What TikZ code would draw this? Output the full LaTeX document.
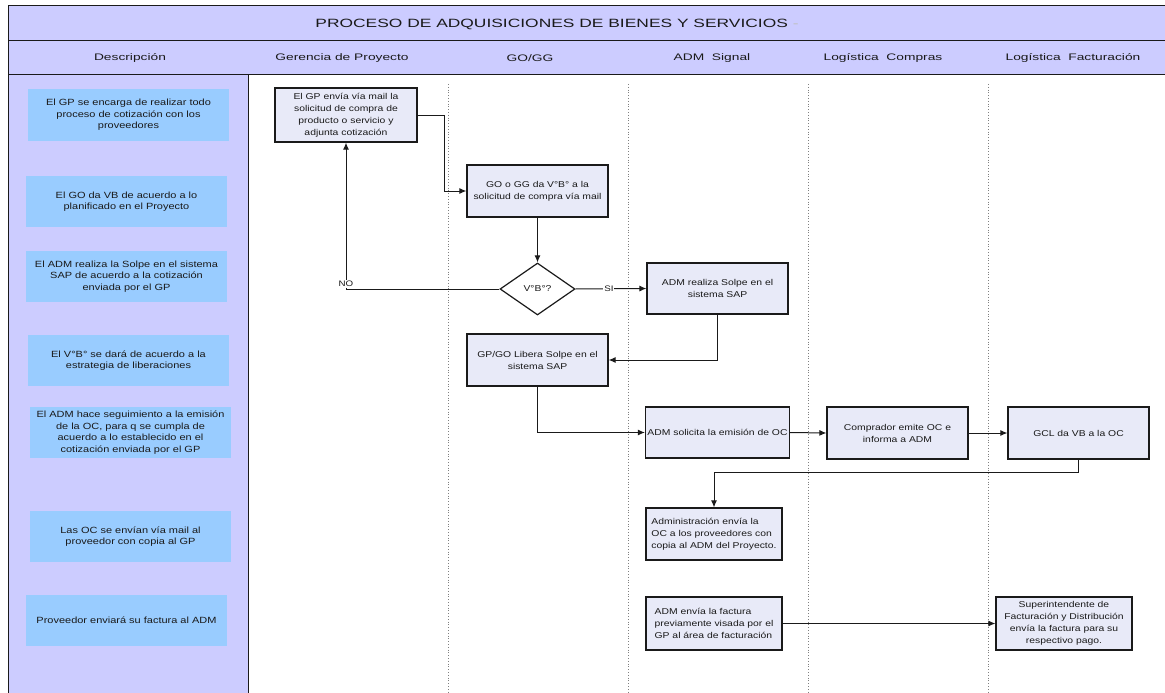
\documentclass[tikz,border=0pt]{standalone}
\usepackage{fontspec}
\setmainfont{Liberation Sans}
\newfontfamily\boxfont[FakeStretch=1.22]{Liberation Sans}
\newfontfamily\headfont[FakeStretch=1.45]{Liberation Sans}
\usetikzlibrary{shapes.geometric,arrows.meta}

\definecolor{lav}{HTML}{CCCCFF}
\definecolor{descblue}{HTML}{99CCFF}
\definecolor{procfill}{HTML}{E8EAF8}
\definecolor{ink}{HTML}{1A1A1A}

\tikzset{
  desc/.style={fill=descblue, minimum width=201pt, minimum height=51pt,
    inner sep=1pt, align=center, text=ink,
    font=\boxfont\fontsize{9}{11.5}\selectfont},
  proc/.style={draw=ink, line width=1.2pt, fill=procfill,
    minimum width=141pt, minimum height=52pt, inner sep=2pt,
    align=center, text=ink, font=\boxfont\fontsize{8.5}{12}\selectfont},
  decide/.style={diamond, draw=ink, line width=1.2pt, fill=white,
    minimum width=75pt, minimum height=52pt, inner sep=0pt, text=ink,
    font=\boxfont\fontsize{8.5}{10}\selectfont},
  arr/.style={-{Latex[length=7pt,width=6pt]}, line width=1pt, draw=ink},
  lane/.style={draw=gray, dotted, line width=0.8pt},
  head/.style={font=\headfont\fontsize{9.5}{11}\selectfont, text=ink},
  lbl/.style={font=\boxfont\fontsize{8}{10}\selectfont, text=ink, inner sep=1pt}
}

\begin{document}
\begin{tikzpicture}[x=1pt,y=-1pt]
\useasboundingbox (0,0) rectangle (1165,693);

% bands and description column
\fill[lav] (8,6) rectangle (1165,75);
\fill[lav] (8,75) rectangle (248,693);
\draw[ink, line width=1pt] (8,693) -- (8,6) -- (1165,6);
\draw[ink, line width=1pt] (8,41) -- (1165,41);
\draw[ink, line width=1pt] (8,75) -- (1165,75);
\draw[ink, line width=1pt] (248,75) -- (248,693);

% lane separators
\foreach \lx in {448,628,808,988} \draw[lane] (\lx,84) -- (\lx,693);

% title and lane headings
\node[font=\headfont\fontsize{12}{14}\selectfont, text=ink] (title) at (557,24)
  {PROCESO DE ADQUISICIONES DE BIENES Y SERVICIOS {\color{gray!50}-}};
\node[head] (hDesc) at (130,58) {Descripción};
\node[head] (hGP)   at (342,58) {Gerencia de Proyecto};
\node[head] (hGO)   at (530,58) {GO/GG};
\node[head] (hADM)  at (712,58) {ADM\ \ Signal};
\node[head] (hLC)   at (883,58) {Logística\ \ Compras};
\node[head] (hLF)   at (1073,58) {Logística\ \ Facturación};

% description column
\node[desc] (d1) at (128.5,115)   {El GP se encarga de realizar todo\\proceso de cotización con los\\proveedores};
\node[desc] (d2) at (126.5,201.5) {El GO da VB de acuerdo a lo\\planificado en el Proyecto};
\node[desc] (d3) at (126.5,276.5) {El ADM realiza la Solpe en el sistema\\SAP de acuerdo a la cotización\\enviada por el GP};
\node[desc] (d4) at (128.5,360.5) {El V°B° se dará de acuerdo a la\\estrategia de liberaciones};
\node[desc] (d5) at (130.5,432.5) {El ADM hace seguimiento a la emisión\\de la OC, para q se cumpla de\\acuerdo a lo establecido en el\\cotización enviada por el GP};
\node[desc] (d6) at (130.5,536.5) {Las OC se envían vía mail al\\proveedor con copia al GP};
\node[desc] (d7) at (126.5,620.5) {Proveedor enviará su factura al ADM};

% process steps
\node[proc, minimum width=142pt, minimum height=54pt] (sA) at (346,115)
  {El GP envía vía mail la\\solicitud de compra de\\producto o servicio y\\adjunta cotización};
\node[proc] (sB) at (537.5,191) {GO o GG da V°B° a la\\solicitud de compra vía mail};
\node[decide] (sC) at (537.5,289) {V°B°?};
\node[proc, minimum height=51pt] (sD) at (717.5,288.5) {ADM realiza Solpe en el\\sistema SAP};
\node[proc] (sE) at (537.5,360) {GP/GO Libera Solpe en el\\sistema SAP};
\node[proc, minimum height=51pt] (sF) at (717.5,432.5) {ADM solicita la emisión de OC};
\node[proc] (sG) at (897.5,433) {Comprador emite OC e\\informa a ADM};
\node[proc] (sH) at (1078.5,433) {GCL da VB a la OC};
\node[proc, minimum width=136pt, align=left] (sI) at (714,534)
  {Administración envía la\\OC a los proveedores con\\copia al ADM del Proyecto.};
\node[proc, minimum width=136pt, minimum height=53pt, align=left] (sJ) at (714,623.5)
  {ADM envía la factura\\previamente visada por el\\GP al área de facturación};
\node[proc, minimum width=136pt, minimum height=53pt] (sK) at (1064,623.5)
  {Superintendente de\\Facturación y Distribución\\envía la factura para su\\respectivo pago.};

% flow
\draw[arr] (sC.west) -| node[lbl, fill=white, pos=0.5, anchor=south, yshift=1pt] {NO} (sA.south);
\draw[arr] (sA.east) -- ++(27,0) |- (sB.west);
\draw[arr] (sB.south) -- (sC.north);
\draw[arr] (sC.east) -- node[lbl, fill=white, pos=0.47] {SI} (sD.west);
\draw[arr] (sD.south) |- (sE.east);
\draw[arr] (sE.south) |- (sF.west);
\draw[arr] (sF.east) -- (sG.west);
\draw[arr] (sG.east) -- (sH.west);
\draw[arr] (sH.south) -- ++(0,13) -| (sI.north);
\draw[arr] (sJ.east) -- (sK.west);
\end{tikzpicture}
\end{document}
